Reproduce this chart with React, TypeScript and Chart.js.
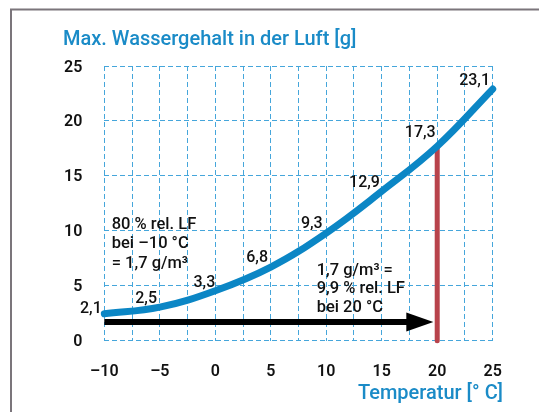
import React, { useEffect, useRef } from "react";
import { Chart, registerables } from "chart.js";

Chart.register(...registerables);

// ---- data ----
const temperatures = [-10, -5, 0, 5, 10, 15, 20, 25];
const waterContent = [2.45, 3.05, 4.55, 6.7, 9.8, 13.6, 17.7, 22.9];

const valueLabels = ["2,1", "2,5", "3,3", "6,8", "9,3", "12,9", "17,3", "23,1"];
const valueLabelX = [-10.23, -5.25, 0, 4.75, 9.68, 14.84, 19.86, 24.76];
const valueLabelY = [3.07, 3.91, 5.43, 7.64, 10.74, 14.47, 19.02, 23.79];

const xTicksMin = -10;
const xTicksMax = 25;
const xGridStep = 2.5;
const xLabelStep = 5;
const yTicksMin = 0;
const yTicksMax = 25;
const yGridStep = 5;

const markerTemp = 20;
const markerTop = 17.7;

const arrowLevel = 1.7;
const arrowStart = -10;
const arrowShaftEnd = 18;
const arrowTip = 19.65;

const noteLeft = ["80 % rel. LF", "bei \u201310 \u00b0C", "= 1,7 g/m\u00b3"];
const noteLeftAt = [-9.33, 10.14];
const noteRight = ["1,7 g/m\u00b3 =", "9,9 % rel. LF", "bei 20 \u00b0C"];
const noteRightAt = [9.14, 5.98];

const chartTitle = "Max. Wassergehalt in der Luft [g]";
const axisTitle = "Temperatur [\u00b0 C]";

// ---- styles ----
const BLUE = "#0b86c5";
const TITLE_BLUE = "#1a8bc7";
const GRID = "#45a6db";
const RED = "#b8434b";
const TEXT = "#111111";
const FONT = "Roboto, 'Noto Sans', sans-serif";

const fmt = (v: number) => (v < 0 ? "\u2013" + Math.abs(v) : String(v));

const overlay = {
  id: "overlay",
  beforeDraw(chart: any) {
    const ctx = chart.ctx;
    ctx.save();
    ctx.fillStyle = "#ffffff";
    ctx.fillRect(0, 0, chart.width, chart.height);
    ctx.strokeStyle = "#7b757b";
    ctx.lineWidth = 2;
    ctx.beginPath();
    ctx.moveTo(11, chart.height);
    ctx.lineTo(11, 9.5);
    ctx.lineTo(chart.width, 9.5);
    ctx.stroke();
    ctx.restore();
  },
  afterDatasetsDraw(chart: any) {
    const ctx = chart.ctx;
    const xs = chart.scales.x;
    const ys = chart.scales.y;
    ctx.save();
    // arrow head
    const tipX = xs.getPixelForValue(arrowTip);
    const ay = ys.getPixelForValue(arrowLevel);
    ctx.fillStyle = "#000000";
    ctx.beginPath();
    ctx.moveTo(tipX, ay);
    ctx.lineTo(tipX - 27, ay - 9.5);
    ctx.lineTo(tipX - 27, ay + 9.5);
    ctx.closePath();
    ctx.fill();

    // value labels
    ctx.fillStyle = TEXT;
    ctx.font = `500 16px ${FONT}`;
    ctx.textAlign = "right";
    ctx.textBaseline = "alphabetic";
    valueLabels.forEach((t, i) => {
      ctx.fillText(
        t,
        xs.getPixelForValue(valueLabelX[i]),
        ys.getPixelForValue(valueLabelY[i]) + 5.7
      );
    });

    // notes
    ctx.textAlign = "left";
    ctx.font = `500 16.5px ${FONT}`;
    noteLeft.forEach((t, i) => {
      ctx.fillText(t, xs.getPixelForValue(noteLeftAt[0]), ys.getPixelForValue(noteLeftAt[1]) + i * 19.2);
    });
    noteRight.forEach((t, i) => {
      ctx.fillText(t, xs.getPixelForValue(noteRightAt[0]), ys.getPixelForValue(noteRightAt[1]) + i * 18.4);
    });

    // titles
    ctx.fillStyle = TITLE_BLUE;
    ctx.font = `500 20px ${FONT}`;
    ctx.textAlign = "left";
    ctx.fillText(chartTitle, 63, 45);
    ctx.textAlign = "right";
    ctx.fillText(axisTitle, 503, 399);
    ctx.restore();
  },
};

export default function App() {
  const ref = useRef<HTMLCanvasElement | null>(null);

  useEffect(() => {
    if (!ref.current) return;
    const chart = new Chart(ref.current, {
      type: "line",
      data: {
        datasets: [
          {
            data: temperatures.map((t, i) => ({ x: t, y: waterContent[i] })),
            borderColor: BLUE,
            borderWidth: 7,
            borderCapStyle: "round",
            borderJoinStyle: "round",
            tension: 0.4,
            pointRadius: 0,
            clip: false,
          } as any,
          {
            data: [
              { x: markerTemp, y: 0 },
              { x: markerTemp, y: markerTop },
            ],
            borderColor: RED,
            borderWidth: 5,
            borderCapStyle: "round",
            pointRadius: 0,
            clip: false,
          } as any,
          {
            data: [
              { x: arrowStart, y: arrowLevel },
              { x: arrowShaftEnd, y: arrowLevel },
            ],
            borderColor: "#000000",
            borderWidth: 6,
            borderCapStyle: "butt",
            pointRadius: 0,
            clip: false,
          } as any,
        ],
      },
      options: {
        responsive: false,
        animation: false,
        events: [],
        layout: { padding: { left: 0, top: 66, right: 46.3, bottom: 0 } },
        plugins: {
          legend: { display: false },
          tooltip: { enabled: false },
          title: { display: false },
        },
        scales: {
          x: {
            type: "linear",
            min: xTicksMin,
            max: xTicksMax,
            afterFit: (s: any) => {
              s.height = 71.3;
            },
            ticks: {
              stepSize: xGridStep,
              autoSkip: false,
              maxRotation: 0,
              padding: 22,
              color: TEXT,
              font: { family: FONT, size: 16, weight: "600" as any },
              callback: (v: any) => (Number(v) % xLabelStep === 0 ? fmt(Number(v)) : ""),
            },
            grid: { color: GRID, lineWidth: 1, drawTicks: false },
            border: { display: false, dash: [5, 3] },
          },
          y: {
            type: "linear",
            min: yTicksMin,
            max: yTicksMax,
            afterFit: (s: any) => {
              s.width = 104.3;
            },
            ticks: {
              stepSize: yGridStep,
              padding: 22,
              labelOffset: 1.5,
              color: TEXT,
              font: { family: FONT, size: 16, weight: "600" as any },
              callback: (v: any) => fmt(Number(v)),
            },
            grid: { color: GRID, lineWidth: 1, drawTicks: false },
            border: { display: false, dash: [5, 3] },
          },
        },
      },
      plugins: [overlay],
    });
    return () => chart.destroy();
  }, []);

  return (
    <div style={{ position: "fixed", left: 0, top: 0, width: 539, height: 412 }}>
      <canvas ref={ref} width={539} height={412} style={{ display: "block" }} />
    </div>
  );
}
